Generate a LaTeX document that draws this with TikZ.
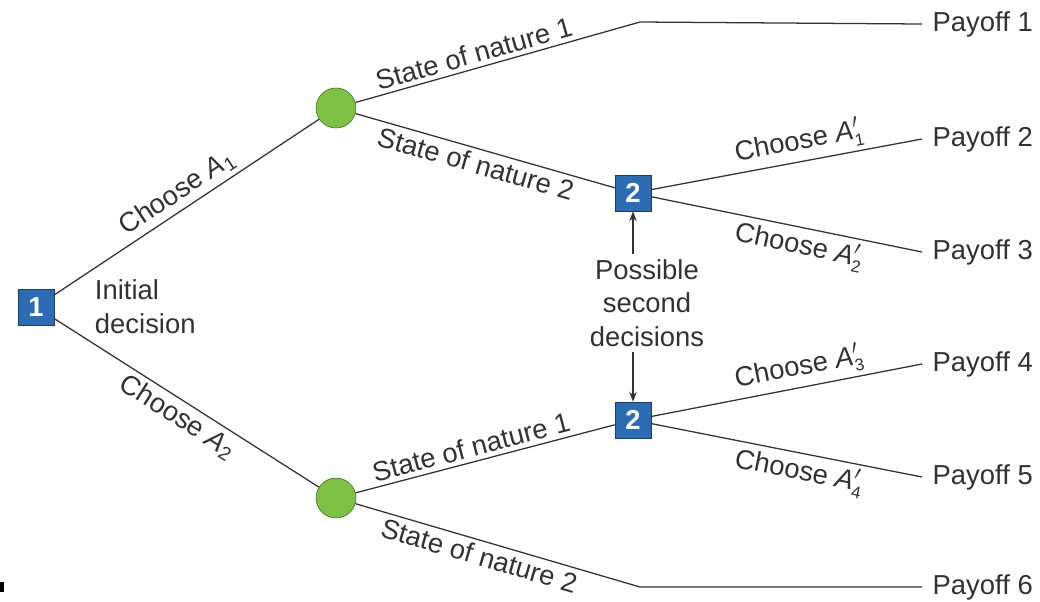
\documentclass[tikz,border=0pt]{standalone}
\usepackage{fontspec}
\setmainfont{Liberation Sans}
\usepackage{tikz}
\usetikzlibrary{positioning,arrows.meta}

\definecolor{boxblue}{RGB}{43,108,181}
\definecolor{boxedge}{RGB}{30,60,100}
\definecolor{natgreen}{RGB}{125,194,66}
\definecolor{natedge}{RGB}{60,115,35}
\definecolor{inkgray}{RGB}{50,50,50}

\newcommand{\altA}[1]{\textit{A}$^{\prime}_{\mbox{\fontsize{12}{12}\selectfont #1}}$}

\begin{document}
\begin{tikzpicture}[x=0.025cm, y=-0.025cm,
    every node/.style = { text = inkgray, font = \fontsize{19.5}{24}\selectfont },
    decision/.style = { draw = boxedge, fill = boxblue, minimum size = 0.9cm, inner sep = 0pt,
                        text = white, font = \fontsize{19.5}{24}\selectfont\bfseries },
    chance/.style = { draw = natedge, fill = natgreen, circle, minimum size = 1cm, inner sep = 0pt },
    payoff/.style = { anchor = west, inner sep = 0.26cm },
    branch/.style = { draw = inkgray, line width = 0.9pt },
    lbl/.style = { sloped, inner sep = 3pt }]

  \useasboundingbox (0,0) rectangle (1040,601);
  \fill[black] (0,582) rectangle (4,592);

  % decision and chance nodes
  \node[decision] (d1) at (36,307) {1};
  \node[chance] (c1) at (336,108) {};
  \node[chance] (c2) at (336,498) {};
  \node[decision] (d2a) at (633,193) {2};
  \node[decision] (d2b) at (633,420) {2};

  % payoffs
  \node[payoff] (p1) at (922,24) {Payoff 1};
  \node[payoff] (p2) at (922,139) {Payoff 2};
  \node[payoff] (p3) at (922,252) {Payoff 3};
  \node[payoff] (p4) at (922,364) {Payoff 4};
  \node[payoff] (p5) at (922,477) {Payoff 5};
  \node[payoff] (p6) at (922,587) {Payoff 6};

  \coordinate (k1) at (640,22);
  \coordinate (k6) at (640,587);

  % first decision
  \draw[branch] (d1) -- node[lbl, midway, above] {Choose \textit{A}\textsubscript{1}} (c1);
  \draw[branch] (d1) -- node[lbl, midway, below] {Choose \textit{A}\textsubscript{2}} (c2);

  % states of nature
  \draw[branch] (c1) -- node[lbl, pos = .43, above] {State of nature 1} (k1) -- (p1.west);
  \draw[branch] (c1) -- node[lbl, pos = .48, below] {State of nature 2} (d2a);
  \draw[branch] (c2) -- node[lbl, pos = .46, above] {State of nature 1} (d2b);
  \draw[branch] (c2) -- node[lbl, pos = .45, below] {State of nature 2} (k6) -- (p6.west);

  % second decisions
  \draw[branch] (d2a) -- node[lbl, pos = .56, above] {Choose \altA{1}} (p2.west);
  \draw[branch] (d2a) -- node[lbl, pos = .56, below] {Choose \altA{2}} (p3.west);
  \draw[branch] (d2b) -- node[lbl, pos = .56, above] {Choose \altA{3}} (p4.west);
  \draw[branch] (d2b) -- node[lbl, pos = .56, below] {Choose \altA{4}} (p5.west);

  % notes
  \node[anchor = west, align = left] (init) at (90,307) {Initial\\decision};
  \node[align = center] (second) at (647,303) {Possible\\second\\decisions};
  \draw[-Stealth, inkgray, line width = 0.9pt] (second.north -| d2a) -- (d2a.south);
  \draw[-Stealth, inkgray, line width = 0.9pt] (second.south -| d2b) -- (d2b.north);
\end{tikzpicture}
\end{document}
